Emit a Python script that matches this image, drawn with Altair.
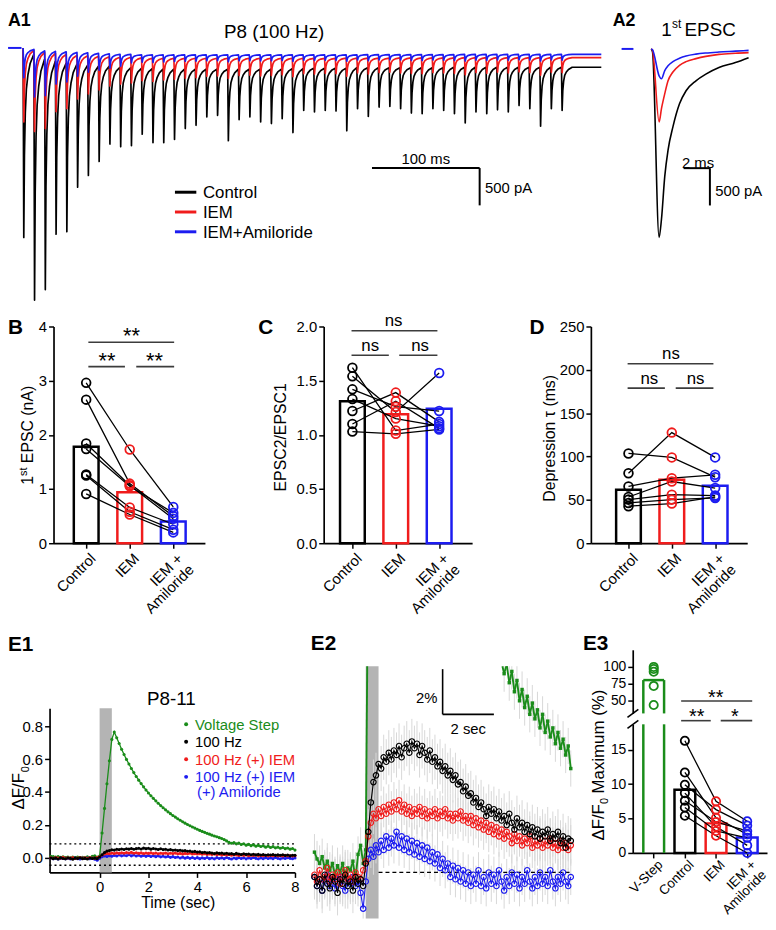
import altair as alt
import numpy as np
import pandas as pd

OFF = 8
W, H = 776 - OFF, 930 - OFF
FONT = "Liberation Sans"
C_BLACK, C_RED, C_BLUE, C_GREEN = "#000000", "#f01c1c", "#1c1cf0", "#1a8c1a"
C_BAND, C_ERR, C_SIG = "#b4b4b4", "#d8d8d8", "#3c3c3c"


def P(v):
    return v - OFF


def lin(domain, rng):
    return alt.Scale(type="linear", domain=list(domain), range=[P(r) for r in rng],
                     nice=False, zero=False)


AX = dict(grid=False, title=None, domainColor="black", domainWidth=1.7, tickColor="black",
          tickWidth=1.5, tickSize=5, labelColor="black", labelFont=FONT, labelPadding=2,
          labelFlush=False, labelOverlap=False)


def y_axis(xref, values, fmt=None, size=15):
    a = dict(AX, orient="left", offset=-P(xref), values=values, labelFontSize=size)
    if fmt:
        a["format"] = fmt
    return alt.Axis(**a)


def x_axis(yref, values, fmt=None, size=15, labels=True):
    a = dict(AX, orient="bottom", offset=P(yref) - H, values=values, labelFontSize=size, labels=labels)
    if fmt:
        a["format"] = fmt
    return alt.Axis(**a)


ONE = pd.DataFrame({"_": [0]})


def txt(text, x, y, size=15, align="left", weight="normal", color="black", angle=0):
    kw = dict(text=text, fontSize=size, font=FONT, align=align, fontWeight=weight,
              color=color, baseline="alphabetic")
    if angle:
        kw["angle"] = angle
    return alt.Chart(ONE).mark_text(**kw).encode(x=alt.value(P(x)), y=alt.value(P(y)))


def seg(x1, y1, x2, y2, color="black", width=1.6):
    return alt.Chart(ONE).mark_rule(color=color, strokeWidth=width).encode(
        x=alt.value(P(x1)), y=alt.value(P(y1)), x2=alt.value(P(x2)), y2=alt.value(P(y2)))


layers = []

# =================== A1 : 100 Hz train ===================
pulse_ms = 10.0
a1_black_peak = [-2539, -3379, -3238, -2496, -2464, -1867, -1708, -1522, -1289, -1323,
                 -1310, -1156, -1270, -1270, -1227, -1081, -1037, -926, -904, -1244,
                 -961, -926, -992, -1014, -948, -1134, -838, -859, -838, -846,
                 -1111, -815, -918, -793, -785, -815, -873, -882, -815, -838,
                 -882, -1005, -859, -882, -829, -859, -772, -815, -1050, -815, -838]
a1_black_rest = [0, -86, -152, -179, -206, -219, -232, -245, -245, -259,
                 -265, -272, -278, -285, -285, -285, -285, -285, -285, -285,
                 -285, -285, -285, -285, -285, -278, -278, -272, -272, -272,
                 -272, -265, -265, -265, -265, -265, -265, -265, -265, -265,
                 -259, -259, -259, -259, -259, -259, -259, -259, -259, -259, -259]
a1_red_peak = [-992, -1120, -1081, -855, -815, -683, -617, -564, -511, -484,
               -470, -440, -450, -430, -420, -405, -400, -380, -375, -410,
               -370, -365, -375, -370, -360, -385, -345, -350, -340, -345,
               -380, -335, -350, -330, -325, -335, -340, -345, -330, -335,
               -340, -360, -330, -340, -325, -335, -320, -330, -365, -325, -330]
a1_red_rest = [0, -33, -60, -73, -86, -99, -106, -113, -119, -126,
               -126, -133, -139, -139, -139, -139, -139, -139, -139, -139,
               -139, -139, -139, -139, -139, -139, -139, -139, -139, -139,
               -136, -136, -136, -136, -136, -133, -133, -133, -133, -133,
               -133, -130, -130, -130, -130, -130, -130, -130, -130, -130, -130]
a1_blue_peak = [-400, -656, -639, -484, -457, -378, -325, -298, -272, -245,
                -200, -190, -195, -188, -182, -178, -176, -172, -170, -185,
                -172, -170, -174, -172, -168, -180, -165, -168, -165, -166,
                -178, -162, -170, -160, -158, -162, -166, -168, -162, -165,
                -168, -175, -164, -166, -160, -164, -158, -162, -175, -160, -164]
a1_blue_rest = [0, -20, -40, -46, -53, -60, -66, -73, -80, -86,
                -86, -93, -93, -93, -93, -93, -93, -93, -93, -93,
                -93, -93, -93, -93, -93, -93, -93, -93, -93, -93,
                -93, -93, -90, -90, -90, -90, -90, -90, -90, -90,
                -90, -86, -86, -86, -86, -86, -86, -86, -86, -86, -86]
a1_tail = {"black": -259, "red": -130, "blue": -86}
a1_end_ms = 537
kern_dt = [0.6, 1.2, 2.0, 3.0, 4.5, 6.5, 9.9]
kern_frac = [1.0, 0.55, 0.32, 0.19, 0.11, 0.05, 0.0]


def build_train(peaks, rests, tail):
    levels = list(rests) + [tail]
    rows = []
    for n, pk in enumerate(peaks):
        t0 = n * pulse_ms
        rows.append((t0, levels[n]))
        nxt = levels[n + 1]
        for dt, k in zip(kern_dt, kern_frac):
            rows.append((t0 + dt, nxt + (pk - nxt) * k))
    rows.append((a1_end_ms, tail))
    return pd.DataFrame(rows, columns=["t", "i"])


a1_x = lin([0, 500], [23.3, 567.3])
a1_y = lin([0, -500], [43.5, 81.2])
for peaks, rests, name, col in [(a1_black_peak, a1_black_rest, "black", C_BLACK),
                                 (a1_red_peak, a1_red_rest, "red", C_RED),
                                 (a1_blue_peak, a1_blue_rest, "blue", C_BLUE)]:
    df = build_train(peaks, rests, a1_tail[name])
    layers.append(alt.Chart(df).mark_line(color=col, strokeWidth=1.7, strokeJoin="round").encode(
        x=alt.X("t:Q", scale=a1_x, axis=None), y=alt.Y("i:Q", scale=a1_y, axis=None)))

a1_base = pd.DataFrame({"t1": [-14.0], "t2": [-1.5], "i": [0]})
layers.append(alt.Chart(a1_base).mark_rule(color=C_BLUE, strokeWidth=2).encode(
    x=alt.X("t1:Q", scale=a1_x, axis=None), x2="t2:Q", y=alt.Y("i:Q", scale=a1_y, axis=None)))

# scale bar A1: 100 ms, 500 pA
a1_sb_t0, a1_sb_dt, a1_sb_i0, a1_sb_di = 324, 100, -1610, 500
sb1 = pd.DataFrame({"x1": [a1_sb_t0, a1_sb_t0 + a1_sb_dt], "x2": [a1_sb_t0 + a1_sb_dt, a1_sb_t0 + a1_sb_dt],
                    "y1": [a1_sb_i0, a1_sb_i0], "y2": [a1_sb_i0, a1_sb_i0 - a1_sb_di]})
layers.append(alt.Chart(sb1).mark_rule(color="black", strokeWidth=2).encode(
    x=alt.X("x1:Q", scale=a1_x, axis=None), x2="x2:Q",
    y=alt.Y("y1:Q", scale=a1_y, axis=None), y2="y2:Q"))
sb1_lab = pd.DataFrame({"x": [a1_sb_t0 + a1_sb_dt / 2], "y": [a1_sb_i0 + 60], "t": ["100 ms"]})
layers.append(alt.Chart(sb1_lab).mark_text(font=FONT, fontSize=15, align="center", baseline="alphabetic").encode(
    x=alt.X("x:Q", scale=a1_x, axis=None), y=alt.Y("y:Q", scale=a1_y, axis=None), text="t:N"))
sb1_lab2 = pd.DataFrame({"x": [a1_sb_t0 + a1_sb_dt + 5], "y": [a1_sb_i0 - 338], "t": ["500 pA"]})
layers.append(alt.Chart(sb1_lab2).mark_text(font=FONT, fontSize=15, align="left", baseline="alphabetic").encode(
    x=alt.X("x:Q", scale=a1_x, axis=None), y=alt.Y("y:Q", scale=a1_y, axis=None), text="t:N"))

# legend A1
a1_leg_names = ["Control", "IEM", "IEM+Amiloride"]
a1_leg_cols = [C_BLACK, C_RED, C_BLUE]
for k, (nm, col) in enumerate(zip(a1_leg_names, a1_leg_cols)):
    yy = 189.3 + 20 * k
    layers.append(seg(176.7, yy, 198.3, yy, color=col, width=3))
    layers.append(txt(nm, 205, yy + 6.1, size=17))

layers.append(txt("P8 (100 Hz)", 277, 33.5, size=19, align="center"))
layers.append(txt("A1", 8, 21, size=18, weight="bold"))

# =================== A2 : first EPSC ===================
a2_t = [-0.1, 0.0, 0.5, 0.68, 0.93, 1.18, 1.55, 2.05, 2.55, 3.3, 4.05, 5.05, 6.3, 7.3]
a2_black = [0, -40, -2526, -2283, -1708, -1355, -1045, -736, -560, -427, -338, -249, -183, -117]
a2_red = [0, -20, -979, -800, -600, -427, -310, -220, -170, -130, -100, -73, -58, -50]
a2_blue = [0, -10, -360, -400, -290, -225, -170, -125, -95, -70, -55, -42, -30, -20]
a2_x = lin([0, 7.5], [659.3, 759.05])
a2_y = lin([0, -500], [44.5, 82.2])
for vals, col in [(a2_black, C_BLACK), (a2_red, C_RED), (a2_blue, C_BLUE)]:
    df = pd.DataFrame({"t": a2_t, "i": vals})
    layers.append(alt.Chart(df).mark_line(color=col, strokeWidth=1.6, interpolate="monotone").encode(
        x=alt.X("t:Q", scale=a2_x, axis=None), y=alt.Y("i:Q", scale=a2_y, axis=None)))
a2_base = pd.DataFrame({"t1": [-2.35], "t2": [-1.45], "i": [0]})
layers.append(alt.Chart(a2_base).mark_rule(color=C_BLUE, strokeWidth=2).encode(
    x=alt.X("t1:Q", scale=a2_x, axis=None), x2="t2:Q", y=alt.Y("i:Q", scale=a2_y, axis=None)))
a2_sb_t0, a2_sb_dt, a2_sb_i0, a2_sb_di = 2.36, 2, -1598, 500
sb2 = pd.DataFrame({"x1": [a2_sb_t0, a2_sb_t0 + a2_sb_dt], "x2": [a2_sb_t0 + a2_sb_dt, a2_sb_t0 + a2_sb_dt],
                    "y1": [a2_sb_i0, a2_sb_i0], "y2": [a2_sb_i0, a2_sb_i0 - a2_sb_di]})
layers.append(alt.Chart(sb2).mark_rule(color="black", strokeWidth=2).encode(
    x=alt.X("x1:Q", scale=a2_x, axis=None), x2="x2:Q",
    y=alt.Y("y1:Q", scale=a2_y, axis=None), y2="y2:Q"))
sb2_lab = pd.DataFrame({"x": [a2_sb_t0 + a2_sb_dt / 2 + 0.1, a2_sb_t0 + a2_sb_dt + 0.4],
                        "y": [a2_sb_i0 + 74, a2_sb_i0 - 310], "t": ["2 ms", "500 pA"]})
layers.append(alt.Chart(sb2_lab.iloc[[0]]).mark_text(font=FONT, fontSize=15, align="center").encode(
    x=alt.X("x:Q", scale=a2_x, axis=None), y=alt.Y("y:Q", scale=a2_y, axis=None), text="t:N"))
layers.append(alt.Chart(sb2_lab.iloc[[1]]).mark_text(font=FONT, fontSize=15, align="left").encode(
    x=alt.X("x:Q", scale=a2_x, axis=None), y=alt.Y("y:Q", scale=a2_y, axis=None), text="t:N"))
layers.append(txt("1", 668, 31.7, size=19))
layers.append(txt("st", 679, 23.5, size=12))
layers.append(txt("EPSC", 691.7, 31.7, size=19))
layers.append(txt("A2", 619, 21, size=18, weight="bold"))

# =================== B, C, D : paired bar panels ===================
cond_names = ["Control", "IEM", "IEM +|Amiloride"]
cond_cols = [C_BLACK, C_RED, C_BLUE]

b_control = [2.96, 2.65, 1.84, 1.74, 1.27, 1.25, 0.91]
b_iem = [1.73, 1.10, 1.07, 1.05, 0.66, 0.58, 0.53]
b_iem_amil = [0.67, 0.50, 0.45, 0.56, 0.35, 0.25, 0.20]
b_means = [1.78, 0.94, 0.40]

c_control = [1.62, 1.54, 1.42, 1.33, 1.22, 1.10, 1.03]
c_iem = [1.04, 1.21, 1.26, 1.15, 1.39, 1.31, 1.01]
c_iem_amil = [1.10, 1.57, 1.22, 1.08, 1.12, 1.06, 1.05]
c_means = [1.31, 1.19, 1.24]

d_control = [103.6, 80.8, 65.5, 53.3, 50.3, 46.5, 42.7]
d_iem = [99.0, 127.6, 75.0, 71.2, 56.0, 50.3, 45.7]
d_iem_amil = [76.2, 99.0, 78.9, 63.6, 55.0, 52.2, 53.5]
d_means = [61.7, 73.1, 66.3]


def paired_layers(xs, ys, start, vals_by_cond, colors, means, hw, xax, yax, size=78):
    rows = []
    for ci, (vals, col) in enumerate(zip(vals_by_cond, colors)):
        for sid, v in enumerate(vals):
            rows.append({"sid": sid, "idx": start + ci, "val": v, "col": col})
    pts = pd.DataFrame(rows)
    bars = pd.DataFrame({"idx": [start + i for i in range(len(means))], "val": means, "col": colors})
    bars["x1"] = bars["idx"] - hw
    bars["x2"] = bars["idx"] + hw
    return [
        alt.Chart(bars).mark_rect(fillOpacity=0, strokeWidth=2.5).encode(
            x=alt.X("x1:Q", scale=xs, axis=None), x2="x2:Q",
            y=alt.Y("val:Q", scale=ys, axis=None), y2=alt.datum(0),
            stroke=alt.Stroke("col:N", scale=None)),
        alt.Chart(pts).mark_line(color="black", strokeWidth=1.3).encode(
            x=alt.X("idx:Q", scale=xs, axis=xax), y=alt.Y("val:Q", scale=ys, axis=yax), detail="sid:N"),
        alt.Chart(pts).mark_point(shape="circle", filled=False, size=size, strokeWidth=1.8, opacity=1).encode(
            x=alt.X("idx:Q", scale=xs, axis=None), y=alt.Y("val:Q", scale=ys, axis=None),
            stroke=alt.Stroke("col:N", scale=None)),
    ]


def sig_layers(xs, ys, lines, texts, fs):
    ldf = pd.DataFrame(lines, columns=["x1", "x2", "y"])
    tdf = pd.DataFrame(texts, columns=["x", "y", "t"])
    return [
        alt.Chart(ldf).mark_rule(color=C_SIG, strokeWidth=1.6).encode(
            x=alt.X("x1:Q", scale=xs, axis=None), x2="x2:Q", y=alt.Y("y:Q", scale=ys, axis=None)),
        alt.Chart(tdf).mark_text(font=FONT, fontSize=fs, align="center", baseline="alphabetic", color="black").encode(
            x=alt.X("x:Q", scale=xs, axis=None), y=alt.Y("y:Q", scale=ys, axis=None), text="t:N"),
    ]


def cat_labels(xs, idxs, names, ypx, fs):
    df = pd.DataFrame({"idx": idxs, "name": names})
    return alt.Chart(df).mark_text(font=FONT, fontSize=fs, angle=315, align="right", baseline="top",
                                   lineBreak="|", lineHeight=fs + 1, xOffset=2, color="black").encode(
        x=alt.X("idx:Q", scale=xs, axis=None), y=alt.value(P(ypx)), text="name:N")


# B
bx = lin([-0.75, 2.727], [54, 207])
by = lin([0, 4], [544, 325])
layers += paired_layers(bx, by, 0, [b_control, b_iem, b_iem_amil], cond_cols, b_means, 0.284,
                        x_axis(544, [0, 1, 2], labels=False), y_axis(54, [0, 1, 2, 3, 4]))
b_sig_lines = [(0.05, 2.02, 3.71), (0.05, 0.89, 3.26), (1.15, 2.02, 3.26)]
b_sig_text = [(1.04, 3.69, "**"), (0.48, 3.23, "**"), (1.57, 3.23, "**")]
layers += sig_layers(bx, by, b_sig_lines, b_sig_text, 22)
layers.append(cat_labels(bx, [0, 1, 2], cond_names, 552, 15))
layers.append(txt("1", 33, 485, size=16, angle=270))
layers.append(txt("st", 27.5, 476.1, size=11, angle=270))
layers.append(txt("EPSC (nA)", 33, 463.1, size=16, angle=270))
layers.append(txt("B", 8, 333, size=21, weight="bold"))

# C
cx = lin([-0.662, 2.76], [327, 477])
cy = lin([0, 2], [544, 325])
layers += paired_layers(cx, cy, 0, [c_control, c_iem, c_iem_amil], cond_cols, c_means, 0.285,
                        x_axis(544, [0, 1, 2], labels=False), y_axis(327, [0, 0.5, 1, 1.5, 2], fmt=".1f"))
c_sig_lines = [(-0.02, 1.96, 1.961), (-0.02, 0.84, 1.735), (1.08, 1.96, 1.735)]
c_sig_text = [(0.95, 2.005, "ns"), (0.41, 1.771, "ns"), (1.56, 1.771, "ns")]
layers += sig_layers(cx, cy, c_sig_lines, c_sig_text, 17)
layers.append(cat_labels(cx, [0, 1, 2], cond_names, 552, 15))
layers.append(txt("EPSC2/EPSC1", 289, 437, size=16, align="center", angle=270))
layers.append(txt("C", 261, 333, size=21, weight="bold"))

# D
dx = lin([-0.868, 2.74], [597, 755])
dy = lin([0, 250], [544, 325])
layers += paired_layers(dx, dy, 0, [d_control, d_iem, d_iem_amil], cond_cols, d_means, 0.285,
                        x_axis(544, [0, 1, 2], labels=False), y_axis(597, [0, 50, 100, 150, 200, 250]))
d_sig_lines = [(-0.02, 1.96, 207.0), (-0.02, 0.84, 178.9), (1.09, 1.96, 178.9)]
d_sig_text = [(0.98, 212.7, "ns"), (0.48, 184.1, "ns"), (1.55, 184.1, "ns")]
layers += sig_layers(dx, dy, d_sig_lines, d_sig_text, 17)
layers.append(cat_labels(dx, [0, 1, 2], cond_names, 552, 15))
layers.append(txt("Depression \u03c4 (ms)", 561, 438, size=16, align="center", angle=270))
layers.append(txt("D", 535, 333, size=21, weight="bold"))

# =================== E1 / E2 : calcium imaging time courses ===================
e_t = np.round(np.arange(-2.0, 8.0001, 0.1), 1)
e_black = [-0.002, -0.006, -0.003, -0.008, -0.001, -0.005, -0.007, -0.002, -0.004, -0.009,
           -0.003, -0.005, -0.001, -0.006, -0.004, -0.008, -0.002, -0.005, -0.003, -0.006,
           0.004, 0.018, 0.031, 0.040, 0.043, 0.048, 0.046, 0.051, 0.049, 0.053,
           0.050, 0.054, 0.052, 0.056, 0.051, 0.055, 0.057, 0.053, 0.058, 0.055,
           0.057, 0.052, 0.056, 0.053, 0.050, 0.054, 0.049, 0.051, 0.047, 0.049,
           0.045, 0.047, 0.043, 0.045, 0.041, 0.043, 0.039, 0.040, 0.036, 0.038,
           0.034, 0.035, 0.031, 0.033, 0.029, 0.031, 0.028, 0.025, 0.029, 0.026,
           0.028, 0.024, 0.027, 0.023, 0.025, 0.021, 0.026, 0.022, 0.019, 0.024,
           0.020, 0.022, 0.018, 0.021, 0.017, 0.020, 0.016, 0.019, 0.015, 0.018,
           0.016, 0.019, 0.014, 0.017, 0.015, 0.018, 0.013, 0.016, 0.011, 0.015,
           0.014]
e_red = [-0.001, -0.004, 0.001, -0.003, -0.002, 0.002, -0.004, -0.001, -0.003, 0.000,
         -0.005, -0.002, 0.001, -0.003, -0.001, -0.004, 0.000, -0.002, -0.003, 0.001,
         0.005, 0.016, 0.022, 0.026, 0.024, 0.028, 0.025, 0.029, 0.026, 0.030,
         0.027, 0.031, 0.028, 0.032, 0.027, 0.030, 0.026, 0.029, 0.025, 0.028,
         0.026, 0.029, 0.025, 0.028, 0.024, 0.027, 0.025, 0.028, 0.024, 0.027,
         0.025, 0.028, 0.024, 0.026, 0.023, 0.026, 0.024, 0.027, 0.023, 0.025,
         0.022, 0.025, 0.021, 0.024, 0.020, 0.023, 0.019, 0.022, 0.018, 0.021,
         0.017, 0.020, 0.016, 0.019, 0.015, 0.018, 0.016, 0.013, 0.017, 0.014,
         0.016, 0.012, 0.015, 0.013, 0.016, 0.011, 0.014, 0.012, 0.015, 0.011,
         0.014, 0.012, 0.015, 0.011, 0.013, 0.010, 0.014, 0.011, 0.013, 0.010,
         0.012]
e_blue = [-0.002, -0.006, -0.003, -0.008, -0.004, -0.001, -0.006, -0.003, -0.007, -0.004,
          -0.002, -0.006, -0.008, -0.003, -0.005, -0.002, -0.006, -0.004, -0.009, -0.016,
          -0.004, 0.006, 0.010, 0.007, 0.012, 0.009, 0.014, 0.010, 0.016, 0.011,
          0.015, 0.012, 0.018, 0.011, 0.016, 0.010, 0.015, 0.009, 0.014, 0.008,
          0.013, 0.007, 0.012, 0.006, 0.011, 0.005, 0.009, 0.004, 0.008, 0.002,
          0.006, 0.001, 0.004, -0.002, 0.003, -0.003, 0.002, -0.004, 0.001, -0.005,
          0.000, -0.006, -0.001, -0.005, 0.001, -0.006, -0.002, -0.007, 0.000, -0.005,
          -0.001, -0.006, 0.001, -0.004, -0.008, -0.002, -0.006, 0.000, -0.005, -0.001,
          -0.007, -0.002, -0.005, 0.001, -0.004, -0.007, -0.002, -0.006, 0.000, -0.005,
          -0.002, -0.006, 0.001, -0.004, -0.007, -0.002, -0.005, 0.000, -0.004, -0.006,
          -0.002]
e_green = [0.009, 0.006, 0.004, 0.007, 0.002, 0.005, 0.001, 0.004, -0.001, 0.003,
           0.000, 0.004, -0.002, 0.002, 0.001, 0.005, -0.003, 0.008, 0.012, 0.004,
           0.010, 0.150, 0.300, 0.450, 0.590, 0.720, 0.765, 0.730, 0.695, 0.660,
           0.628, 0.598, 0.570, 0.543, 0.518, 0.494, 0.472, 0.451, 0.431, 0.412,
           0.394, 0.377, 0.361, 0.346, 0.331, 0.317, 0.304, 0.291, 0.279, 0.268,
           0.257, 0.247, 0.237, 0.228, 0.219, 0.210, 0.202, 0.194, 0.187, 0.180,
           0.173, 0.166, 0.160, 0.154, 0.148, 0.143, 0.137, 0.132, 0.127, 0.122,
           0.117, 0.110, 0.102, 0.093, 0.088, 0.092, 0.084, 0.089, 0.080, 0.085,
           0.076, 0.081, 0.073, 0.078, 0.070, 0.075, 0.068, 0.072, 0.064, 0.070,
           0.062, 0.067, 0.060, 0.064, 0.057, 0.062, 0.055, 0.059, 0.052, 0.056,
           0.046]
e_sem = {"green": 0.008, "black": 0.010, "red": 0.009, "blue": 0.008}
stim_window = [0.0, 0.5]
e1_thresholds = [0.084, -0.046]
series = [("green", e_green, C_GREEN), ("blue", e_blue, C_BLUE), ("red", e_red, C_RED), ("black", e_black, C_BLACK)]

# E1
e1x = lin([-2.05, 8], [50, 298])
e1y = lin([-0.09, 0.91], [876.7, 710.7])
band1 = pd.DataFrame({"t1": [stim_window[0]], "t2": [stim_window[1]], "v1": [-0.09], "v2": [0.91]})
layers.append(alt.Chart(band1).mark_rect(color=C_BAND).encode(
    x=alt.X("t1:Q", scale=e1x, axis=None), x2="t2:Q", y=alt.Y("v1:Q", scale=e1y, axis=None), y2="v2:Q"))
thr = pd.DataFrame({"t1": [-2.05, -2.05], "t2": [8, 8], "v": e1_thresholds})
layers.append(alt.Chart(thr).mark_rule(color="black", strokeWidth=1.4, strokeDash=[2, 3]).encode(
    x=alt.X("t1:Q", scale=e1x, axis=None), x2="t2:Q", y=alt.Y("v:Q", scale=e1y, axis=None)))
for k, (nm, vals, col) in enumerate(series):
    df = pd.DataFrame({"t": e_t, "v": vals})
    xa = x_axis(876.7, [0, 2, 4, 6, 8]) if k == 0 else None
    ya = y_axis(50, [0, 0.2, 0.4, 0.6, 0.8], fmt=".1f") if k == 0 else None
    layers.append(alt.Chart(df).mark_line(color=col, strokeWidth=1.3).encode(
        x=alt.X("t:Q", scale=e1x, axis=xa), y=alt.Y("v:Q", scale=e1y, axis=ya)))
    layers.append(alt.Chart(df).mark_circle(color=col, size=10, opacity=1).encode(
        x=alt.X("t:Q", scale=e1x, axis=None), y=alt.Y("v:Q", scale=e1y, axis=None)))
e1_leg = [("Voltage Step", C_GREEN), ("100 Hz", C_BLACK), ("100 Hz (+) IEM", C_RED), ("100 Hz (+) IEM", C_BLUE)]
for k, (nm, col) in enumerate(e1_leg):
    yy = 727 + 17.7 * k
    layers.append(alt.Chart(ONE).mark_circle(color=col, size=16, opacity=1).encode(
        x=alt.value(P(188)), y=alt.value(P(yy))))
    layers.append(txt(nm, 197, yy + 5.4, size=15, color=col))
layers.append(txt("(+) Amiloride", 199, 800.4, size=15, color=C_BLUE))
layers.append(txt("P8-11", 173, 707, size=19, align="center"))
layers.append(txt("Time (sec)", 180, 913, size=16, align="center"))
layers.append(txt("\u0394F/F", 24, 813, size=17, angle=270))
layers.append(txt("0", 29, 775.5, size=11, angle=270))
layers.append(txt("E1", 8, 653, size=21, weight="bold"))

# E2 (zoom of E1 between the dotted lines)
E2_LO, E2_HI = -0.0204, 0.0913
e2x = lin([-2, 8], [317.7, 576.7])
e2y = lin([E2_LO, E2_HI], [923.3, 668.3])
band2 = pd.DataFrame({"t1": [stim_window[0]], "t2": [stim_window[1]], "v1": [E2_LO], "v2": [E2_HI]})
layers.append(alt.Chart(band2).mark_rect(color=C_BAND).encode(
    x=alt.X("t1:Q", scale=e2x, axis=None), x2="t2:Q", y=alt.Y("v1:Q", scale=e2y, axis=None), y2="v2:Q"))

err_rows = []
for nm, vals, col in series:
    for t, v in zip(e_t, vals):
        if E2_LO <= v <= E2_HI:
            err_rows.append({"t": t, "lo": max(v - e_sem[nm], E2_LO), "hi": min(v + e_sem[nm], E2_HI)})
layers.append(alt.Chart(pd.DataFrame(err_rows)).mark_rule(color=C_ERR, strokeWidth=1).encode(
    x=alt.X("t:Q", scale=e2x, axis=None), y=alt.Y("lo:Q", scale=e2y, axis=None), y2="hi:Q"))
zero_line = pd.DataFrame({"t1": [0.5], "t2": [8.0], "v": [0.0]})
layers.append(alt.Chart(zero_line).mark_rule(color="black", strokeWidth=1.3, strokeDash=[4, 3]).encode(
    x=alt.X("t1:Q", scale=e2x, axis=None), x2="t2:Q", y=alt.Y("v:Q", scale=e2y, axis=None)))


def clip_segments(ts, vs, hi):
    rows, sid = [], 0
    for i in range(len(ts) - 1):
        t0, v0, t1, v1 = float(ts[i]), vs[i], float(ts[i + 1]), vs[i + 1]
        if v0 > hi and v1 > hi:
            continue
        if v0 > hi:
            t0, v0 = t0 + (t1 - t0) * (v0 - hi) / (v0 - v1), hi
        elif v1 > hi:
            t1, v1 = t0 + (t1 - t0) * (hi - v0) / (v1 - v0), hi
        rows += [{"seg": sid, "t": t0, "v": v0}, {"seg": sid, "t": t1, "v": v1}]
        sid += 1
    return pd.DataFrame(rows)


for nm, vals, col in series:
    df = pd.DataFrame({"t": e_t, "v": vals})
    df = df[(df["v"] <= E2_HI) & (df["v"] >= E2_LO)]
    if nm == "green":
        layers.append(alt.Chart(clip_segments(e_t, vals, E2_HI)).mark_line(color=col, strokeWidth=1.9).encode(
            x=alt.X("t:Q", scale=e2x, axis=None), y=alt.Y("v:Q", scale=e2y, axis=None), detail="seg:N"))
        layers.append(alt.Chart(df).mark_square(color=col, size=12, opacity=1).encode(
            x=alt.X("t:Q", scale=e2x, axis=None), y=alt.Y("v:Q", scale=e2y, axis=None)))
    else:
        layers.append(alt.Chart(df).mark_line(color=col, strokeWidth=1.1).encode(
            x=alt.X("t:Q", scale=e2x, axis=None), y=alt.Y("v:Q", scale=e2y, axis=None)))
        layers.append(alt.Chart(df).mark_point(shape="circle", filled=False, color=col, size=30,
                                               strokeWidth=1.2, opacity=1).encode(
            x=alt.X("t:Q", scale=e2x, axis=None), y=alt.Y("v:Q", scale=e2y, axis=None)))

e2_sb_t0, e2_sb_dt, e2_sb_v0, e2_sb_dv = 3.0, 2.0, 0.07, 0.02
sb3 = pd.DataFrame({"x1": [e2_sb_t0, e2_sb_t0], "x2": [e2_sb_t0 + e2_sb_dt, e2_sb_t0],
                    "y1": [e2_sb_v0, e2_sb_v0], "y2": [e2_sb_v0, e2_sb_v0 + e2_sb_dv]})
layers.append(alt.Chart(sb3).mark_rule(color="black", strokeWidth=1.6).encode(
    x=alt.X("x1:Q", scale=e2x, axis=None), x2="x2:Q", y=alt.Y("y1:Q", scale=e2y, axis=None), y2="y2:Q"))
sb3_a = pd.DataFrame({"x": [e2_sb_t0 - 0.2], "y": [e2_sb_v0 + 0.0072], "t": ["2%"]})
sb3_b = pd.DataFrame({"x": [e2_sb_t0 + e2_sb_dt / 2], "y": [e2_sb_v0 - 0.0066], "t": ["2 sec"]})
layers.append(alt.Chart(sb3_a).mark_text(font=FONT, fontSize=15, align="right").encode(
    x=alt.X("x:Q", scale=e2x, axis=None), y=alt.Y("y:Q", scale=e2y, axis=None), text="t:N"))
layers.append(alt.Chart(sb3_b).mark_text(font=FONT, fontSize=15, align="center").encode(
    x=alt.X("x:Q", scale=e2x, axis=None), y=alt.Y("y:Q", scale=e2y, axis=None), text="t:N"))
layers.append(txt("E2", 314, 652, size=21, weight="bold"))

# =================== E3 : maximum dF/F0 with broken axis ===================
e3_names = ["V-Step", "Control", "IEM", "IEM +|Amiloride"]
e3_vstep = [100, 97, 93, 72, 44]
e3_control = [16.3, 11.7, 9.9, 8.7, 7.6, 6.6, 5.4]
e3_iem = [7.5, 5.1, 6.3, 3.8, 4.5, 3.2, 2.5]
e3_iem_amil = [4.6, 2.7, 4.0, 1.1, 3.2, 2.2, 0.0]
e3_means = [80.6, 9.2, 4.3, 2.25]
E3_HW = 0.333
e3x = lin([-0.673, 3.635], [639.3, 775])
e3_lo = lin([0, 18.7], [857, 727])
e3_hi = lin([31.5, 125.2], [716, 651.7])

layers += paired_layers(e3x, e3_lo, 1, [e3_control, e3_iem, e3_iem_amil], cond_cols, e3_means[1:], E3_HW,
                        x_axis(857, [0, 1, 2, 3], labels=False), y_axis(639.3, [0, 5, 10, 15], size=14), size=70)
# V-Step bar, broken across the two segments
vs_sides = pd.DataFrame({"x": [0 - E3_HW, 0 + E3_HW], "lo": [0, 0], "hi": [18.7, 18.7]})
layers.append(alt.Chart(vs_sides).mark_rule(color=C_GREEN, strokeWidth=2.5).encode(
    x=alt.X("x:Q", scale=e3x, axis=None), y=alt.Y("lo:Q", scale=e3_lo, axis=None), y2="hi:Q"))
vs_up = pd.DataFrame({"x": [0 - E3_HW, 0 + E3_HW], "lo": [31.5, 31.5], "hi": [e3_means[0], e3_means[0]]})
layers.append(alt.Chart(vs_up).mark_rule(color=C_GREEN, strokeWidth=2.5).encode(
    x=alt.X("x:Q", scale=e3x, axis=None), y=alt.Y("lo:Q", scale=e3_hi, axis=y_axis(639.3, [50, 75, 100], size=14)),
    y2="hi:Q"))
vs_top = pd.DataFrame({"x1": [0 - E3_HW], "x2": [0 + E3_HW], "y": [e3_means[0]]})
layers.append(alt.Chart(vs_top).mark_rule(color=C_GREEN, strokeWidth=2.5).encode(
    x=alt.X("x1:Q", scale=e3x, axis=None), x2="x2:Q", y=alt.Y("y:Q", scale=e3_hi, axis=None)))
vs_pts = pd.DataFrame({"idx": [0] * len(e3_vstep), "val": e3_vstep})
layers.append(alt.Chart(vs_pts).mark_point(shape="circle", filled=False, color=C_GREEN, size=70,
                                           strokeWidth=1.8, opacity=1).encode(
    x=alt.X("idx:Q", scale=e3x, axis=None), y=alt.Y("val:Q", scale=e3_hi, axis=None)))
e3_sig_lines = [(0.88, 3.16, 22.1), (0.88, 1.83, 19.23), (2.15, 3.16, 19.23)]
e3_sig_text = [(1.99, 21.7, "**"), (1.38, 18.84, "**"), (2.6, 18.84, "*")]
layers += sig_layers(e3x, e3_lo, e3_sig_lines, e3_sig_text, 20)
layers.append(cat_labels(e3x, [0, 1, 2, 3], e3_names, 862, 13.5))
layers.append(seg(634, 720, 645, 712))
layers.append(seg(634, 731, 645, 723))
layers.append(txt("\u0394F/F", 610.7, 844.5, size=17, angle=270))
layers.append(txt("0", 614.7, 807.6, size=11, angle=270))
layers.append(txt("Maximum (%)", 610.7, 796.8, size=17, angle=270))
layers.append(txt("E3", 589, 652, size=21, weight="bold"))

chart = alt.layer(*layers).resolve_scale(x="independent", y="independent").resolve_axis(
    x="independent", y="independent").properties(
    width=W, height=H, padding=0, autosize=alt.AutoSizeParams(type="none")).configure_view(stroke=None)

chart.save("out.html", embed_options={"renderer": "svg", "actions": False})
